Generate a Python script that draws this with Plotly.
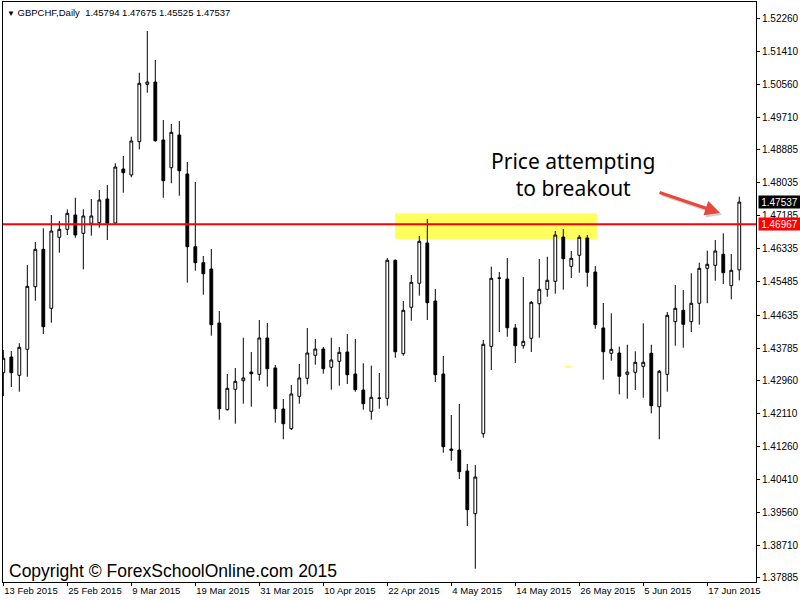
import plotly.graph_objects as go

# ---- data (GBPCHF daily) ----
opens = [
    1.43152, 1.43555, 1.43085, 1.43753, 1.45362, 1.46323, 1.44807, 1.46632, 1.46837, 1.47205,
    1.46734, 1.46992, 1.47007, 1.47616, 1.46999, 1.48387, 1.48233, 1.49089, 1.50564, 1.50623,
    1.49132, 1.48420, 1.49261, 1.48259, 1.46390, 1.45979, 1.45817, 1.44429, 1.42201, 1.42725,
    1.42946, 1.43170, 1.43111, 1.44044, 1.43273, 1.42219, 1.41713, 1.42545, 1.43008, 1.43599,
    1.43761, 1.43291, 1.43445, 1.43684, 1.43119, 1.42707, 1.42160, 1.42490, 1.42494, 1.46041,
    1.43640, 1.44833, 1.45450, 1.46485, 1.44995, 1.43119, 1.41191, 1.41165, 1.40626, 1.39528,
    1.41584, 1.43830, 1.45578, 1.45560, 1.44301, 1.43846, 1.44036, 1.44925, 1.45295, 1.45501,
    1.46639, 1.45886, 1.46169, 1.46614, 1.45740, 1.44301, 1.43651, 1.43658, 1.43111, 1.43162,
    1.43316, 1.43651, 1.42278, 1.43111, 1.44463, 1.44756, 1.44463, 1.44936, 1.45835, 1.45912,
    1.46195, 1.45388, 1.45794,
]
highs = [
    1.43735, 1.43710, 1.43908, 1.45920, 1.46511, 1.46863, 1.47205, 1.47051, 1.47351, 1.47649,
    1.47351, 1.47616, 1.47847, 1.47976, 1.48533, 1.48721, 1.49217, 1.50862, 1.51934, 1.51188,
    1.49646, 1.49544, 1.49621, 1.48567, 1.48053, 1.46151, 1.46331, 1.44738, 1.43119, 1.43273,
    1.44051, 1.43684, 1.44506, 1.44429, 1.43350, 1.42476, 1.42836, 1.43375, 1.44301, 1.44018,
    1.43812, 1.44051, 1.43812, 1.44146, 1.44018, 1.43394, 1.43332, 1.43144, 1.46100, 1.46060,
    1.44995, 1.45663, 1.46665, 1.47102, 1.45303, 1.43581, 1.42065, 1.42348, 1.40806, 1.40780,
    1.43992, 1.45876, 1.45740, 1.46100, 1.44404, 1.45611, 1.44995, 1.46074, 1.46133, 1.46794,
    1.46845, 1.46280, 1.46691, 1.46691, 1.45894, 1.44943, 1.44679, 1.43820, 1.43871, 1.43702,
    1.44421, 1.43871, 1.43221, 1.44712, 1.45406, 1.45277, 1.45707, 1.45979, 1.46287, 1.46562,
    1.46734, 1.46203, 1.47675,
]
lows = [
    1.42553, 1.42784, 1.42664, 1.43049, 1.45002, 1.44146, 1.44437, 1.46236, 1.46691, 1.46621,
    1.45809, 1.46673, 1.46878, 1.46562, 1.46948, 1.47778, 1.48174, 1.48893, 1.50348, 1.49089,
    1.47649, 1.48020, 1.47701, 1.45465, 1.45773, 1.45156, 1.44103, 1.41944, 1.42180, 1.41841,
    1.42355, 1.42278, 1.42946, 1.42792, 1.41867, 1.41440, 1.41679, 1.42355, 1.42854, 1.43358,
    1.43126, 1.42715, 1.42818, 1.42861, 1.42664, 1.42201, 1.41944, 1.42227, 1.42304, 1.43537,
    1.43589, 1.44488, 1.45131, 1.44506, 1.42913, 1.41096, 1.40890, 1.40420, 1.39212, 1.38115,
    1.41481, 1.43221, 1.44198, 1.44077, 1.43401, 1.43769, 1.43684, 1.44051, 1.45105, 1.45182,
    1.45285, 1.45586, 1.45722, 1.45362, 1.44283, 1.42972, 1.43460, 1.42597, 1.42484, 1.42707,
    1.42509, 1.42108, 1.41440, 1.42664, 1.43846, 1.43794, 1.44198, 1.44386, 1.44936, 1.45516,
    1.45432, 1.45038, 1.45525,
]
closes = [
    1.43522, 1.43152, 1.43805, 1.45372, 1.46323, 1.44334, 1.46794, 1.46837, 1.47248, 1.46691,
    1.47179, 1.47179, 1.47590, 1.46992, 1.48438, 1.48292, 1.49107, 1.50590, 1.50623, 1.49114,
    1.48086, 1.49330, 1.48343, 1.46390, 1.45979, 1.45696, 1.44386, 1.42227, 1.42751, 1.42931,
    1.43016, 1.43126, 1.44044, 1.43255, 1.42227, 1.41841, 1.42605, 1.43016, 1.43658, 1.43761,
    1.43255, 1.43478, 1.43676, 1.43100, 1.42715, 1.42355, 1.42520, 1.42500, 1.46041, 1.43692,
    1.44756, 1.45475, 1.46529, 1.44951, 1.43100, 1.41250, 1.41158, 1.40608, 1.39631, 1.40471,
    1.43882, 1.45578, 1.45585, 1.44308, 1.43846, 1.43959, 1.44961, 1.45295, 1.45527, 1.46691,
    1.46082, 1.46092, 1.46632, 1.45732, 1.44386, 1.43692, 1.43753, 1.43059, 1.43170, 1.43419,
    1.43419, 1.42304, 1.43188, 1.44627, 1.44807, 1.44396, 1.44936, 1.45835, 1.45938, 1.46280,
    1.45722, 1.45784, 1.47537,
]

date_labels = ["13 Feb 2015", "25 Feb 2015", "9 Mar 2015", "19 Mar 2015", "31 Mar 2015",
               "10 Apr 2015", "22 Apr 2015", "4 May 2015", "14 May 2015", "26 May 2015",
               "5 Jun 2015", "17 Jun 2015"]
date_positions = [0, 8, 16, 24, 32, 40, 48, 56, 64, 72, 80, 88]

price_ticks = ["1.52260", "1.51410", "1.50560", "1.49710", "1.48885", "1.48035", "1.47185",
               "1.46335", "1.45485", "1.44635", "1.43785", "1.42960", "1.42110", "1.41260",
               "1.40410", "1.39560", "1.38710", "1.37885"]

level_price = 1.46967
last_price = 1.47537
zone_low, zone_high = 1.46588, 1.47248
zone_start, zone_end = 48.96, 74.2

header = "GBPCHF,Daily\u00a0\u00a01.45794 1.47675 1.45525 1.47537"

FONT = "Liberation Sans"

idx = list(range(len(opens)))

fig = go.Figure(go.Candlestick(
    x=idx, open=opens, high=highs, low=lows, close=closes,
    increasing=dict(line=dict(color="black", width=1), fillcolor="white"),
    decreasing=dict(line=dict(color="black", width=1), fillcolor="black"),
    whiskerwidth=0, hoverinfo="skip", showlegend=False,
))

fig.update_layout(
    template="none",
    width=800, height=600,
    margin=dict(l=3, r=44, t=2, b=18, pad=0),
    paper_bgcolor="white", plot_bgcolor="white",
    boxgap=0.5,
    showlegend=False,
    xaxis=dict(
        range=[-0.04, 94.09], rangeslider=dict(visible=False),
        showgrid=False, zeroline=False, automargin=False,
        showline=True, linecolor="black", linewidth=1, mirror=True,
        ticks="outside", ticklen=3, tickcolor="black", tickwidth=1,
        tickvals=date_positions, ticktext=date_labels, tickangle=0,
        ticklabelposition="outside right",
        tickfont=dict(family=FONT, size=9.5, color="black"),
    ),
    yaxis=dict(
        range=[1.37773, 1.52679], side="right",
        showgrid=False, zeroline=False, automargin=False,
        showline=True, linecolor="black", linewidth=1, mirror=True,
        ticks="outside", ticklen=3, tickcolor="black", tickwidth=1,
        tickvals=[float(t) for t in price_ticks], ticktext=price_ticks,
        tickfont=dict(family=FONT, size=10, color="black"),
    ),
    shapes=[
        dict(type="rect", xref="x", yref="y", x0=zone_start, x1=zone_end,
             y0=zone_low, y1=zone_high, fillcolor="#ffff5e", line=dict(width=0),
             layer="below"),
        dict(type="line", xref="x", yref="y", x0=70.2, x1=70.96, y0=1.43306, y1=1.43306,
             line=dict(color="#ffff5e", width=2), layer="below"),
        dict(type="line", xref="paper", yref="y", x0=0, x1=1, y0=level_price, y1=level_price,
             line=dict(color="#ff0000", width=2), layer="above"),
    ],
    annotations=[
        dict(xref="paper", yref="paper", x=0, y=1, xanchor="left", yanchor="top",
             xshift=2, yshift=-3, showarrow=False, align="left",
             text="<span style='font-size:8px'>\u25bc</span> " + header,
             font=dict(family=FONT, size=9.5, color="black")),
        dict(xref="x", yref="y", x=71.2, y=1.48245, showarrow=False,
             text="Price attempting<br>to breakout",
             font=dict(family="Noto Sans", size=21, color="black")),
        # arrow shadow
        dict(xref="x", yref="y", x=89.6, y=1.47256, ax=-62, ay=-21, text="",
             showarrow=True, arrowhead=2, arrowsize=1, arrowwidth=3,
             arrowcolor="rgba(0,0,0,0.18)", xshift=2, yshift=-2),
        dict(xref="x", yref="y", x=89.6, y=1.47256, ax=-62, ay=-21, text="",
             showarrow=True, arrowhead=2, arrowsize=1, arrowwidth=3,
             arrowcolor="#e8473b"),
        dict(xref="paper", yref="y", x=1, y=last_price, xanchor="left", xshift=2,
             showarrow=False, text=f"{last_price:.5f}", bgcolor="black", width=41, height=12,
             borderpad=0, font=dict(family=FONT, size=10, color="white")),
        dict(xref="paper", yref="y", x=1, y=level_price, xanchor="left", xshift=2,
             showarrow=False, text=f"{level_price:.5f}", bgcolor="#ff0000", width=41, height=12,
             borderpad=0, font=dict(family=FONT, size=10, color="white")),
        dict(xref="paper", yref="paper", x=0, y=0, xanchor="left", yanchor="bottom",
             xshift=4, yshift=-1, showarrow=False,
             text="Copyright \u00a9 ForexSchoolOnline.com 2015",
             font=dict(family="Liberation Sans", size=17.5, color="black")),
    ],
)

fig.write_html(
    "out.html",
    config={"displayModeBar": False},
    post_script="document.body.style.margin='0px';document.body.style.padding='0px';",
)
